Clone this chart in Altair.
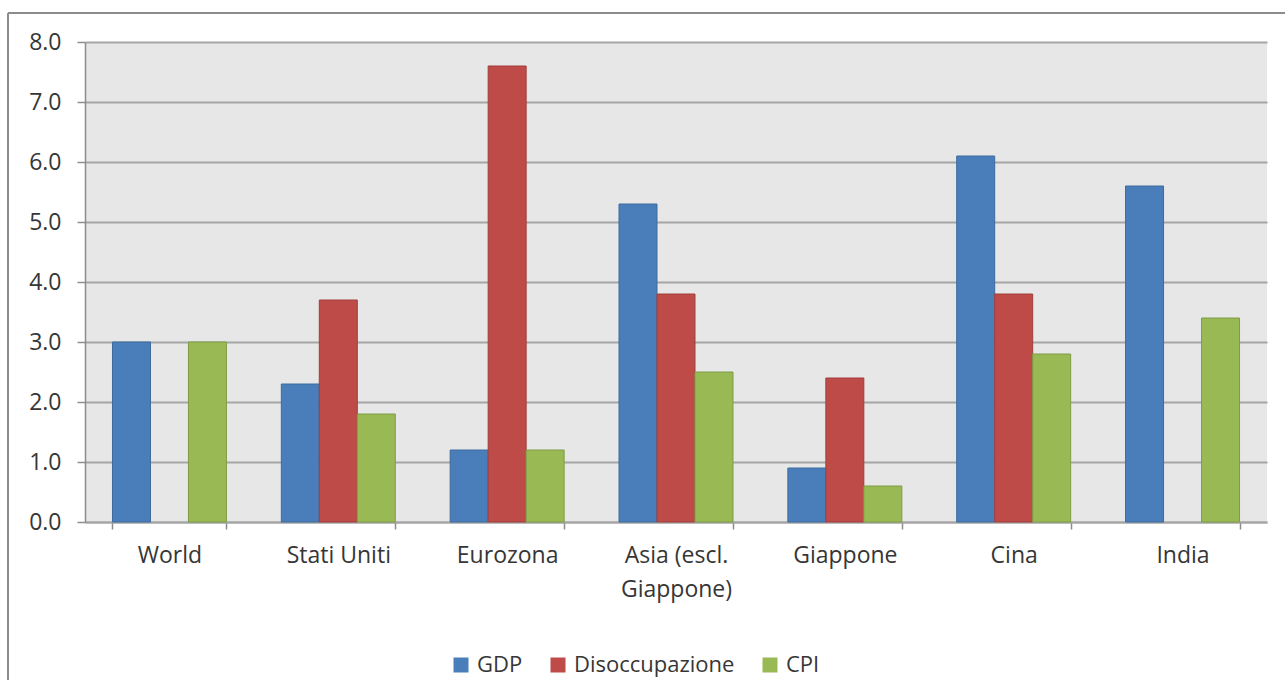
import altair as alt
import pandas as pd

categories = ["World", "Stati Uniti", "Eurozona", "Asia (escl. Giappone)", "Giappone", "Cina", "India"]
series = ["GDP", "Disoccupazione", "CPI"]
gdp = [3.0, 2.3, 1.2, 5.3, 0.9, 6.1, 5.6]
disoccupazione = [None, 3.7, 7.6, 3.8, 2.4, 3.8, None]
cpi = [3.0, 1.8, 1.2, 2.5, 0.6, 2.8, 3.4]
y_ticks = [0, 1, 2, 3, 4, 5, 6, 7, 8]

colors = ["#4A7EBB", "#BE4B48", "#98B954"]
strokes = ["#3C6A9E", "#A03E3B", "#7F9C45"]

rows = []
for name, vals in zip(series, [gdp, disoccupazione, cpi]):
    for c, v in zip(categories, vals):
        if v is not None:
            rows.append({"Regione": c, "Serie": name, "Valore": v})
df = pd.DataFrame(rows)

FONT = "Open Sans"
TXT = "#363636"

bars = alt.Chart(df).mark_bar(strokeWidth=1).encode(
    x=alt.X(
        "Regione:N",
        sort=categories,
        scale=alt.Scale(domain=categories, paddingInner=0.325, paddingOuter=0.1627),
        axis=alt.Axis(
            title=None,
            labelAngle=0,
            tickBand="extent",
            tickSize=7,
            tickColor="#8C8C8C",
            tickWidth=1.5,
            domainColor="#A6A6A6",
            domainWidth=2,
            labelPadding=15,
            labelFont=FONT,
            labelFontSize=23,
            labelColor=TXT,
            labelLineHeight=34,
            labelBaseline="top",
            labelLimit=300,
            labelExpr="datum.value == 'Asia (escl. Giappone)' ? ['Asia (escl.', 'Giappone)'] : datum.label",
        ),
    ),
    xOffset=alt.XOffset(
        "Serie:N",
        sort=series,
        scale=alt.Scale(domain=series, paddingInner=0, paddingOuter=0),
    ),
    y=alt.Y(
        "Valore:Q",
        scale=alt.Scale(domain=[0, 8], nice=False),
        axis=alt.Axis(
            title=None,
            values=y_ticks,
            format=".1f",
            tickSize=8,
            tickColor="#8C8C8C",
            tickWidth=1.5,
            domainColor="#8C8C8C",
            domainWidth=1.5,
            gridColor="#A6A6A6",
            gridWidth=2,
            labelPadding=16,
            labelFont=FONT,
            labelFontSize=23,
            labelColor=TXT,
        ),
    ),
    color=alt.Color(
        "Serie:N",
        sort=series,
        scale=alt.Scale(domain=series, range=colors),
        legend=alt.Legend(
            title=None,
            orient="none",
            direction="horizontal",
            legendX=365,
            legendY=612,
            symbolType="square",
            symbolSize=225,
            symbolStrokeWidth=0,
            labelFont=FONT,
            labelFontSize=22,
            labelColor=TXT,
            labelOffset=5,
            labelLimit=400,
            columnPadding=24,
        ),
    ),
    stroke=alt.Stroke(
        "Serie:N",
        sort=series,
        scale=alt.Scale(domain=series, range=strokes),
        legend=None,
    ),
)

frame_top = alt.Chart(alt.Data(values=[{}])).mark_rule(color="#8C8C8C", strokeWidth=2).encode(
    x=alt.value(-77), x2=alt.value(1205), y=alt.value(-29)
)
frame_left = alt.Chart(alt.Data(values=[{}])).mark_rule(color="#8C8C8C", strokeWidth=2).encode(
    x=alt.value(-77), y=alt.value(-29), y2=alt.value(640)
)

chart = alt.layer(bars, frame_top, frame_left).properties(
    width=1182,
    height=480,
    autosize=alt.AutoSizeParams(type="none"),
    padding={"left": 85, "top": 42, "right": 18, "bottom": 158},
    background="white",
).configure_view(fill="#E7E7E7", stroke=None)

chart.save("out.html", embed_options={"renderer": "svg", "actions": False})
